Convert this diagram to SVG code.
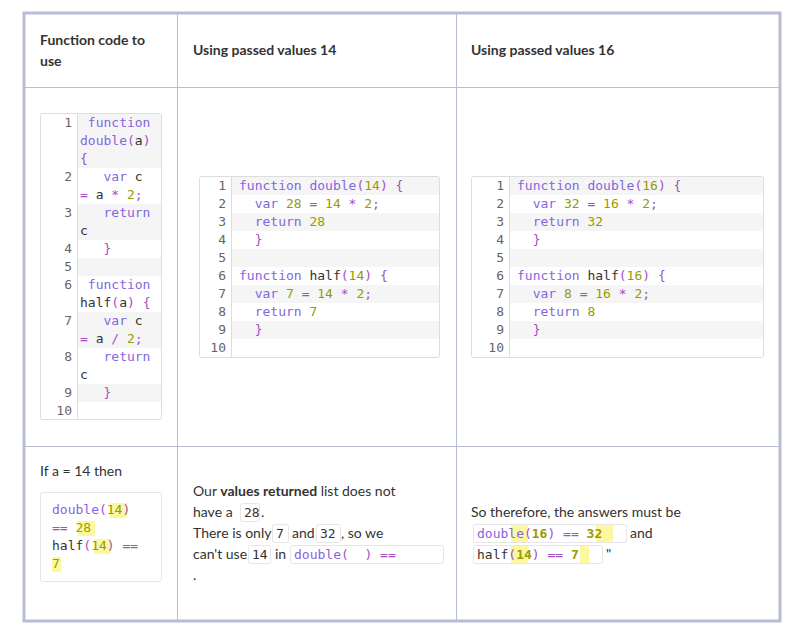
<svg xmlns="http://www.w3.org/2000/svg" width="796" height="627" viewBox="0 0 796 627">
<style>
.t{font-family:Lato,"Open Sans","Liberation Sans",sans-serif;font-size:14px;fill:#333}
.h{font-family:Lato,"Open Sans","Liberation Sans",sans-serif;font-size:14px;font-weight:bold;fill:#333}
.m{font-family:"DejaVu Sans Mono","Liberation Mono",monospace;font-size:13px;fill:#333;white-space:pre}
.n{font-family:"DejaVu Sans Mono","Liberation Mono",monospace;font-size:13px;fill:#666;text-anchor:end}
.k{fill:#8466e0}.p{fill:#a24fc8}.d{fill:#9a9a00}
.cb{fill:#fff;stroke:#ddd;stroke-width:1}
.sh{fill:#f5f5f5}
.g{stroke:#ddd;stroke-width:1}
.hl{fill:#fbf8a0}
.ic{fill:#fff;stroke:#e6e6e6;stroke-width:1}
</style>
<rect width="796" height="627" fill="#fff"/>
<g id="grid" fill="none" stroke="#b8bcd4">
<rect x="24" y="13" width="756" height="608" stroke-width="3"/>
<line x1="177.5" y1="13" x2="177.5" y2="621"/>
<line x1="456.5" y1="13" x2="456.5" y2="621"/>
<line x1="24" y1="87.5" x2="780" y2="87.5"/>
<line x1="24" y1="446.5" x2="780" y2="446.5"/>
</g>
<g id="headers">
<text class="h" x="40" y="45">Function code to</text>
<text class="h" x="40" y="66">use</text>
<text class="h" x="193" y="55">Using passed values 14</text>
<text class="h" x="471" y="55">Using passed values 16</text>
</g>
<g id="code-left">
<rect class="cb" x="40.5" y="113.5" width="121" height="306" rx="2"/>
<rect class="sh" x="78" y="114" width="83" height="54"/>
<rect class="sh" x="78" y="204" width="83" height="36"/>
<rect class="sh" x="78" y="258" width="83" height="18"/>
<rect class="sh" x="78" y="312" width="83" height="36"/>
<rect class="sh" x="78" y="384" width="83" height="18"/>
<line class="g" x1="77.5" y1="114" x2="77.5" y2="419"/>
<text class="n" x="72" y="127">1</text><text class="n" x="72" y="181">2</text><text class="n" x="72" y="217">3</text><text class="n" x="72" y="253">4</text><text class="n" x="72" y="271">5</text><text class="n" x="72" y="289">6</text><text class="n" x="72" y="325">7</text><text class="n" x="72" y="361">8</text><text class="n" x="72" y="397">9</text><text class="n" x="72" y="415">10</text>
<text class="m" x="80" y="127"> <tspan class="k">function</tspan></text>
<text class="m" x="80" y="145"><tspan class="k">double</tspan><tspan class="p">(</tspan>a<tspan class="p">)</tspan></text>
<text class="m" x="80" y="163"><tspan class="p">{</tspan></text>
<text class="m" x="80" y="181">   <tspan class="k">var</tspan> c</text>
<text class="m" x="80" y="199"><tspan class="p">=</tspan> a <tspan class="p">*</tspan> <tspan class="d">2</tspan><tspan class="p">;</tspan></text>
<text class="m" x="80" y="217">   <tspan class="k">return</tspan></text>
<text class="m" x="80" y="235">c</text>
<text class="m" x="80" y="253">   <tspan class="p">}</tspan></text>
<text class="m" x="80" y="289"> <tspan class="k">function</tspan></text>
<text class="m" x="80" y="307">half<tspan class="p">(</tspan>a<tspan class="p">)</tspan> <tspan class="p">{</tspan></text>
<text class="m" x="80" y="325">   <tspan class="k">var</tspan> c</text>
<text class="m" x="80" y="343"><tspan class="p">=</tspan> a <tspan class="p">/</tspan> <tspan class="d">2</tspan><tspan class="p">;</tspan></text>
<text class="m" x="80" y="361">   <tspan class="k">return</tspan></text>
<text class="m" x="80" y="379">c</text>
<text class="m" x="80" y="397">   <tspan class="p">}</tspan></text>
</g>
<g id="code-14">
<rect class="cb" x="199.5" y="176.5" width="240" height="181" rx="2"/>
<rect class="sh" x="232" y="177" width="207" height="18"/>
<rect class="sh" x="232" y="213" width="207" height="18"/>
<rect class="sh" x="232" y="249" width="207" height="18"/>
<rect class="sh" x="232" y="285" width="207" height="18"/>
<rect class="sh" x="232" y="321" width="207" height="18"/>
<line class="g" x1="231.5" y1="177" x2="231.5" y2="357"/>
<text class="n" x="226" y="190">1</text><text class="n" x="226" y="208">2</text><text class="n" x="226" y="226">3</text><text class="n" x="226" y="244">4</text><text class="n" x="226" y="262">5</text><text class="n" x="226" y="280">6</text><text class="n" x="226" y="298">7</text><text class="n" x="226" y="316">8</text><text class="n" x="226" y="334">9</text><text class="n" x="226" y="352">10</text>
<text class="m" x="239" y="190"><tspan class="k">function double</tspan><tspan class="p">(</tspan><tspan class="d">14</tspan><tspan class="p">)</tspan> <tspan class="p">{</tspan></text>
<text class="m" x="239" y="208">  <tspan class="k">var</tspan> <tspan class="d">28</tspan> <tspan class="p">=</tspan> <tspan class="d">14</tspan> <tspan class="p">*</tspan> <tspan class="d">2</tspan><tspan class="p">;</tspan></text>
<text class="m" x="239" y="226">  <tspan class="k">return</tspan> <tspan class="d">28</tspan></text>
<text class="m" x="239" y="244">  <tspan class="p">}</tspan></text>
<text class="m" x="239" y="280"><tspan class="k">function</tspan> half<tspan class="p">(</tspan><tspan class="d">14</tspan><tspan class="p">)</tspan> <tspan class="p">{</tspan></text>
<text class="m" x="239" y="298">  <tspan class="k">var</tspan> <tspan class="d">7</tspan> <tspan class="p">=</tspan> <tspan class="d">14</tspan> <tspan class="p">*</tspan> <tspan class="d">2</tspan><tspan class="p">;</tspan></text>
<text class="m" x="239" y="316">  <tspan class="k">return</tspan> <tspan class="d">7</tspan></text>
<text class="m" x="239" y="334">  <tspan class="p">}</tspan></text>
</g>
<g id="code-16">
<rect class="cb" x="471.5" y="176.5" width="292" height="181" rx="2"/>
<rect class="sh" x="510" y="177" width="253" height="18"/>
<rect class="sh" x="510" y="213" width="253" height="18"/>
<rect class="sh" x="510" y="249" width="253" height="18"/>
<rect class="sh" x="510" y="285" width="253" height="18"/>
<rect class="sh" x="510" y="321" width="253" height="18"/>
<line class="g" x1="509.5" y1="177" x2="509.5" y2="357"/>
<text class="n" x="504" y="190">1</text><text class="n" x="504" y="208">2</text><text class="n" x="504" y="226">3</text><text class="n" x="504" y="244">4</text><text class="n" x="504" y="262">5</text><text class="n" x="504" y="280">6</text><text class="n" x="504" y="298">7</text><text class="n" x="504" y="316">8</text><text class="n" x="504" y="334">9</text><text class="n" x="504" y="352">10</text>
<text class="m" x="517" y="190"><tspan class="k">function double</tspan><tspan class="p">(</tspan><tspan class="d">16</tspan><tspan class="p">)</tspan> <tspan class="p">{</tspan></text>
<text class="m" x="517" y="208">  <tspan class="k">var</tspan> <tspan class="d">32</tspan> <tspan class="p">=</tspan> <tspan class="d">16</tspan> <tspan class="p">*</tspan> <tspan class="d">2</tspan><tspan class="p">;</tspan></text>
<text class="m" x="517" y="226">  <tspan class="k">return</tspan> <tspan class="d">32</tspan></text>
<text class="m" x="517" y="244">  <tspan class="p">}</tspan></text>
<text class="m" x="517" y="280"><tspan class="k">function</tspan> half<tspan class="p">(</tspan><tspan class="d">16</tspan><tspan class="p">)</tspan> <tspan class="p">{</tspan></text>
<text class="m" x="517" y="298">  <tspan class="k">var</tspan> <tspan class="d">8</tspan> <tspan class="p">=</tspan> <tspan class="d">16</tspan> <tspan class="p">*</tspan> <tspan class="d">2</tspan><tspan class="p">;</tspan></text>
<text class="m" x="517" y="316">  <tspan class="k">return</tspan> <tspan class="d">8</tspan></text>
<text class="m" x="517" y="334">  <tspan class="p">}</tspan></text>
</g>
<g id="bottom-left">
<text class="t" x="40" y="476">If a = 14 then</text>
<rect class="ic" x="40.5" y="492.5" width="121" height="89" rx="2"/>
<rect class="hl" x="110" y="503" width="17" height="15"/>
<rect class="hl" x="78" y="521" width="17" height="15"/>
<rect class="hl" x="94" y="539" width="17" height="15"/>
<rect class="hl" x="52" y="557" width="9" height="15"/>
<text class="m" x="52" y="514"><tspan class="k">double</tspan><tspan class="p">(</tspan><tspan class="d">14</tspan><tspan class="p">)</tspan></text>
<text class="m" x="52" y="532"><tspan class="p">==</tspan> <tspan class="d">28</tspan></text>
<text class="m" x="52" y="550">half<tspan class="p">(</tspan><tspan class="d">14</tspan><tspan class="p">)</tspan> <tspan class="p">==</tspan></text>
<text class="m" x="52" y="568"><tspan class="d">7</tspan></text>
</g>
<g id="bottom-mid">
<text class="t" x="193" y="496">Our <tspan font-weight="bold">values returned</tspan> list does not</text>
<rect class="ic" x="240.5" y="503.5" width="19" height="18" rx="2"/>
<text class="t" x="193" y="517">have a</text>
<text class="m" x="244" y="517">28</text>
<text class="t" x="261" y="517">.</text>
<text class="t" x="193" y="538">There is only</text>
<rect class="ic" x="272.5" y="524.5" width="16" height="18" rx="2"/>
<text class="m" x="276" y="538">7</text>
<text class="t" x="292" y="538">and</text>
<rect class="ic" x="316.5" y="524.5" width="24" height="18" rx="2"/>
<text class="m" x="320" y="538">32</text>
<text class="t" x="341" y="538">, so we</text>
<text class="t" x="193" y="559">can't use</text>
<rect class="ic" x="248.5" y="545.5" width="22" height="18" rx="2"/>
<text class="m" x="252" y="559">14</text>
<text class="t" x="275" y="559">in</text>
<rect class="ic" x="290.5" y="545.5" width="153" height="18" rx="2"/>
<text class="m" x="294" y="559"><tspan class="k">double</tspan><tspan class="p">(</tspan>  <tspan class="p">)</tspan> <tspan class="p">==</tspan></text>
<text class="t" x="193" y="580">.</text>
</g>
<g id="bottom-right">
<text class="t" x="471" y="517">So therefore, the answers must be</text>
<rect class="ic" x="473.5" y="524.5" width="153" height="18" rx="2"/>
<rect class="hl" x="511" y="525" width="17" height="17"/>
<rect class="hl" x="596" y="525" width="17" height="17"/>
<text class="m" x="477" y="538"><tspan class="k">double</tspan><tspan class="p">(</tspan><tspan class="d" font-weight="bold">16</tspan><tspan class="p">)</tspan> <tspan class="p">==</tspan> <tspan class="d" font-weight="bold">32</tspan></text>
<text class="t" x="630" y="538">and</text>
<rect class="ic" x="473.5" y="545.5" width="129" height="18" rx="2"/>
<rect class="hl" x="511" y="546" width="17" height="17"/>
<rect class="hl" x="580" y="546" width="9" height="17"/>
<text class="m" x="477" y="559">half<tspan class="p">(</tspan><tspan class="d" font-weight="bold">14</tspan><tspan class="p">)</tspan> <tspan class="p">==</tspan> <tspan class="d" font-weight="bold">7</tspan></text>
<text class="t" x="606" y="559">"</text>
</g>
</svg>
